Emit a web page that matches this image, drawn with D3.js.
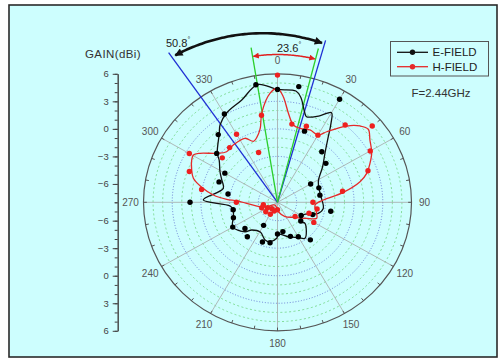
<!DOCTYPE html>
<html>
<head>
<meta charset="utf-8">
<script src="https://cdn.jsdelivr.net/npm/d3@7"></script>
<style>
  html, body { margin: 0; padding: 0; background: #fff; }
  svg { display: block; font-family: "Liberation Sans", Arial, sans-serif; }
</style>
</head>
<body>
<div id="chart"></div>
<script>
// measured E-field samples (markers) and drawn pattern (line): angle in deg, gain in dBi
var eDotAngle = [0, 10, 20, 30, 40, 50, 60, 70, 80, 100, 110, 120, 130, 140, 150, 160, 170, 180,
                 190, 200, 210, 220, 230, 240, 250, 260, 270, 280, 290, 300, 310, 320, 330, 350];
var eDotGain  = [4.3, 4.8, 0.25, 4.97, -0.8, -1.4, -4.0, -3.4, -3.5, -2.35, -4.08, -5.15, -4.83, -2.66, -3.66, -4.05, -4.76, -4.54,
                 -3.52, -3.4, -5.1, -3.1, -3.56, -2.6, -3.1, -3.3, 1.14, -2.75, -1.5, -1.65, 0.29, 1.63, 3.1, 5.0];

var eLineAngle = [0, 9, 12, 16, 18, 25, 30, 33, 36.6, 42.9, 50.6, 62.2, 77.5, 97.8, 105.8, 117, 131, 128.5,
                  143.8, 150.6, 163.2, 178.6, 181.2, 190.4, 197.6, 209, 221.8, 226.6, 240, 251, 259.7, 265.3,
                  271.9, 285, 292.7, 299, 307, 310.3, 321, 324.5, 331.5, 341.5, 350.8];
var eLineGain  = [4.3, 4.28, 3.7, 2.25, 1.8, 2.4, 3.28, 2.26, 0.9, -0.72, -1.9, -3.18, -3.45, -3.17, -3.58, -4.97, -4.74, -4.33,
                  -3.14, -3.58, -4.08, -4.51, -4.08, -3.64, -3.7, -4.29, -3.95, -3.33, -2.62, -3.12, -3.3, -3.03,
                  -0.24, -2.14, -1.69, -1.13, -0.37, 0.25, 1.66, 2.34, 3.1, 3.76, 5.0];

// H-field
var hDotAngle = [0, 10, 20, 30, 40, 50, 60, 70, 80, 90, 100, 110, 120, 130, 180, 200, 210, 220, 230, 240, 250, 260,
                 270, 280, 290, 300, 310, 320, 330, 340, 350];
var hDotGain  = [5.86, 0.65, 0.82, 0.45, 3.0, 4.92, 3.19, 2.06, -1.1, -4.3, -3.8, -4.5, -3.62, -5.6, -7.2, -7.0, -6.5, -7.1, -6.4, -6.8, -6.25, -6.5,
                 -3.7, 0.05, 1.8, 2.64, -0.47, -0.22, 0.56, -2.23, 1.63];

var hLineAngle = [0, 3, 6.7, 11.1, 16.3, 23.3, 30.1, 33.8, 41, 46, 50, 54.9, 61.2, 66.3, 71.3, 75.4, 81.2, 87,
                  94.3, 105, 113, 120, 132, 153, 175, 221, 250, 272, 273.5, 276.8, 281.7, 286.6, 291.4, 297.2,
                  300.4, 303.4, 310, 316, 323.5, 334, 339.5, 345, 347.5, 350.5, 356.2];
var hLineGain  = [4.42, 3.52, 1.77, 0.58, 0.4, 0.58, 0.48, 1.25, 3.01, 3.97, 4.38, 3.8, 3.23, 2.55, 1.84, 0.91, -1.1, -3.2,
                  -4.07, -3.8, -3.55, -4.48, -5.55, -6.25, -6.97, -7.6, -6.42, -3.8, -2.68, -1.25, 0.09, 1.17, 1.63, 2.08,
                  2.19, 1.7, 0.3, -0.34, -0.23, -0.24, -0.9, -0.3, 0.3, 1.9, 3.9];

var angleTicks = d3.range(0, 360, 30);
var gainTicks = [-6, -3, 0, 3, 6];
var minorRings = [-7, -5, -4, -2, -1, 1, 2, 4, 5];
var majorRings = [-6, -3, 0, 3];

// beamwidth markers (deg from 0)
var halfPowerAngles = [-34.9, 15.9];   // blue, 50.8 deg
var tenDbAngles = [-9.3, 14.3];        // green, 23.6 deg

var width = 501, height = 361;
var cx = 277.5, cy = 202.3, rx = 134, ry = 128.5;

var svg = d3.select("#chart").append("svg")
    .attr("width", width)
    .attr("height", height);

var defs = svg.append("defs");
defs.append("marker")
    .attr("id", "arrowBlack")
    .attr("viewBox", "0 0 10 10")
    .attr("refX", 9).attr("refY", 5)
    .attr("markerUnits", "userSpaceOnUse")
    .attr("markerWidth", 11).attr("markerHeight", 8)
    .attr("orient", "auto-start-reverse")
  .append("path").attr("d", "M0,0L10,5L0,10Z").attr("fill", "#111");
defs.append("marker")
    .attr("id", "arrowRed")
    .attr("viewBox", "0 0 10 10")
    .attr("refX", 9).attr("refY", 5)
    .attr("markerUnits", "userSpaceOnUse")
    .attr("markerWidth", 7).attr("markerHeight", 6)
    .attr("orient", "auto-start-reverse")
  .append("path").attr("d", "M0,0L10,5L0,10Z").attr("fill", "#e02020");

svg.append("rect")
    .attr("x", 9).attr("y", 5)
    .attr("width", 488).attr("height", 352)
    .attr("fill", "#cdfefe")
    .attr("stroke", "#2a2a2a")
    .attr("stroke-width", 1.6);

var r = d3.scaleLinear().domain([-8, 6]).range([0, 1]);
var rad = d3.scaleLinear().domain([0, 360]).range([0, 2 * Math.PI]);

function px(a, k) { return cx + rx * k * Math.sin(rad(a)); }
function py(a, k) { return cy - ry * k * Math.cos(rad(a)); }

var grid = svg.append("g").attr("class", "grid");

grid.selectAll(".minor")
    .data(minorRings)
  .enter().append("ellipse")
    .attr("cx", cx).attr("cy", cy)
    .attr("rx", d => rx * r(d)).attr("ry", d => ry * r(d))
    .attr("fill", "none")
    .attr("stroke", "#62cf6e")
    .attr("stroke-width", 0.7)
    .attr("stroke-dasharray", "2,2.4");

grid.selectAll(".major")
    .data(majorRings)
  .enter().append("ellipse")
    .attr("cx", cx).attr("cy", cy)
    .attr("rx", d => rx * r(d)).attr("ry", d => ry * r(d))
    .attr("fill", "none")
    .attr("stroke", "#5565cc")
    .attr("stroke-width", 0.8)
    .attr("stroke-dasharray", "1,1.8");

grid.selectAll(".spoke")
    .data(angleTicks)
  .enter().append("line")
    .attr("x1", cx).attr("y1", cy)
    .attr("x2", d => px(d, 1)).attr("y2", d => py(d, 1))
    .attr("stroke", "#a9b0b0")
    .attr("stroke-width", 0.9);

grid.append("ellipse")
    .attr("cx", cx).attr("cy", cy)
    .attr("rx", rx).attr("ry", ry)
    .attr("fill", "none")
    .attr("stroke", "#555")
    .attr("stroke-width", 1.2);

grid.selectAll(".otick")
    .data(d3.range(0, 360, 10))
  .enter().append("line")
    .attr("x1", d => px(d, 1)).attr("y1", d => py(d, 1))
    .attr("x2", d => px(d, 0.975)).attr("y2", d => py(d, 0.975))
    .attr("stroke", "#555")
    .attr("stroke-width", 1);

svg.append("g").selectAll("text")
    .data(angleTicks)
  .enter().append("text")
    .attr("x", d => cx + (rx + 13) * Math.sin(rad(d)))
    .attr("y", d => cy - (ry + 13) * Math.cos(rad(d)))
    .attr("text-anchor", "middle")
    .attr("dominant-baseline", "central")
    .attr("font-size", 10)
    .attr("fill", "#555")
    .text(d => d);

// radial axis, mirrored above and below the center
var axisX = 117.7;
var yTop = d3.scaleLinear().domain([-8, 6]).range([cy, cy - ry]);
var yBot = d3.scaleLinear().domain([-8, 6]).range([cy, cy + ry]);

[yTop, yBot].forEach(function(s) {
  var gMinor = svg.append("g")
      .attr("transform", `translate(${axisX},0)`)
      .call(d3.axisLeft(s).tickValues(d3.range(-8, 7, 1)).tickSize(3).tickSizeOuter(0).tickFormat(""));
  gMinor.selectAll("line").attr("stroke", "#444");
  gMinor.select(".domain").attr("stroke", "#444");

  var g = svg.append("g")
      .attr("transform", `translate(${axisX},0)`)
      .call(d3.axisLeft(s).tickValues(gainTicks).tickSize(5).tickSizeOuter(0).tickPadding(4));
  g.select(".domain").attr("stroke", "#444");
  g.selectAll("line").attr("stroke", "#444");
  g.selectAll("text")
      .attr("font-family", "Liberation Sans, Arial, sans-serif")
      .attr("font-size", 9.5)
      .attr("fill", "#444");
});

svg.append("text")
    .attr("x", 85).attr("y", 53.5)
    .attr("dominant-baseline", "central")
    .attr("font-size", 11.5)
    .attr("letter-spacing", 0.4)
    .attr("fill", "#333")
    .text("GAIN(dBi)");

// beamwidth lines
var ann = svg.append("g");
ann.selectAll(".blue")
    .data([[halfPowerAngles[0], 1.42], [halfPowerAngles[1], 1.31]])
  .enter().append("line")
    .attr("x1", cx).attr("y1", cy)
    .attr("x2", d => px(d[0], d[1])).attr("y2", d => py(d[0], d[1]))
    .attr("stroke", "#1f2fd4")
    .attr("stroke-width", 1.3);
ann.selectAll(".green")
    .data([[tenDbAngles[0], 1.22], [tenDbAngles[1], 1.235]])
  .enter().append("line")
    .attr("x1", cx).attr("y1", cy)
    .attr("x2", d => px(d[0], d[1])).attr("y2", d => py(d[0], d[1]))
    .attr("stroke", "#2ccf2c")
    .attr("stroke-width", 1.3);

function arcPoints(a0, a1, k0, k1) {
  var n = 40;
  return d3.range(n + 1).map(function(i) {
    var t = i / n, a = a0 + (a1 - a0) * t, k = k0 + (k1 - k0) * t;
    return [px(a, k), py(a, k)];
  });
}
var arcLine = d3.line().curve(d3.curveBasis);

ann.append("path")
    .attr("d", arcLine(arcPoints(halfPowerAngles[0] + 1.2, halfPowerAngles[1] - 0.9, 1.375, 1.283)))
    .attr("fill", "none")
    .attr("stroke", "#111")
    .attr("stroke-width", 2.6)
    .attr("marker-start", "url(#arrowBlack)")
    .attr("marker-end", "url(#arrowBlack)");

ann.append("path")
    .attr("d", arcLine(arcPoints(tenDbAngles[0] + 0.3, tenDbAngles[1] - 0.3, 1.15, 1.15)))
    .attr("fill", "none")
    .attr("stroke", "#e02020")
    .attr("stroke-width", 1.5)
    .attr("marker-start", "url(#arrowRed)")
    .attr("marker-end", "url(#arrowRed)");

function degLabel(x, y, value) {
  var t = svg.append("text")
      .attr("x", x).attr("y", y)
      .attr("font-size", 11)
      .attr("fill", "#222");
  t.append("tspan").text(value);
  t.append("tspan").attr("font-size", 7).attr("dy", -5).text("°");
}
degLabel(166, 47, d3.format(".1f")(halfPowerAngles[1] - halfPowerAngles[0]));
degLabel(277, 52, d3.format(".1f")(tenDbAngles[1] - tenDbAngles[0]));

// patterns
var pat = d3.line()
    .x(d => px(d[0], r(d[1])))
    .y(d => py(d[0], r(d[1])))
    .curve(d3.curveCatmullRomClosed.alpha(0.5));

var eLine = eLineAngle.map((a, i) => [a, eLineGain[i]]);
var hLine = hLineAngle.map((a, i) => [a, hLineGain[i]]);
var eDots = eDotAngle.map((a, i) => [a, eDotGain[i]]);
var hDots = hDotAngle.map((a, i) => [a, hDotGain[i]]);

svg.append("path")
    .attr("d", pat(eLine))
    .attr("fill", "none")
    .attr("stroke", "#111")
    .attr("stroke-width", 1.3);

svg.append("path")
    .attr("d", pat(hLine))
    .attr("fill", "none")
    .attr("stroke", "#e52a2a")
    .attr("stroke-width", 1.3);

svg.append("g").selectAll("circle")
    .data(eDots)
  .enter().append("circle")
    .attr("cx", d => px(d[0], r(d[1])))
    .attr("cy", d => py(d[0], r(d[1])))
    .attr("r", 2.7)
    .attr("fill", "#000");

svg.append("g").selectAll("circle")
    .data(hDots)
  .enter().append("circle")
    .attr("cx", d => px(d[0], r(d[1])))
    .attr("cy", d => py(d[0], r(d[1])))
    .attr("r", 2.7)
    .attr("fill", "#ee2020");

// legend
var legend = svg.append("g");
legend.append("rect")
    .attr("x", 390.5).attr("y", 41.5)
    .attr("width", 98).attr("height", 34.5)
    .attr("fill", "none")
    .attr("stroke", "#555")
    .attr("stroke-width", 1);

var series = [{name: "E-FIELD", color: "#111"}, {name: "H-FIELD", color: "#e52a2a"}];
var items = legend.selectAll(".item")
    .data(series)
  .enter().append("g")
    .attr("transform", (d, i) => `translate(0,${52.3 + i * 14.4})`);
items.append("line")
    .attr("x1", 397).attr("x2", 428)
    .attr("stroke", d => d.color)
    .attr("stroke-width", 1.3);
items.append("circle")
    .attr("cx", 412.5).attr("r", 2.7)
    .attr("fill", d => d.color);
items.append("text")
    .attr("x", 432.5)
    .attr("dominant-baseline", "central")
    .attr("font-size", 11.5)
    .attr("fill", "#222")
    .text(d => d.name);

svg.append("text")
    .attr("x", 441).attr("y", 93)
    .attr("text-anchor", "middle")
    .attr("dominant-baseline", "central")
    .attr("font-size", 11.5)
    .attr("fill", "#333")
    .text("F=2.44GHz");
</script>
</body>
</html>
